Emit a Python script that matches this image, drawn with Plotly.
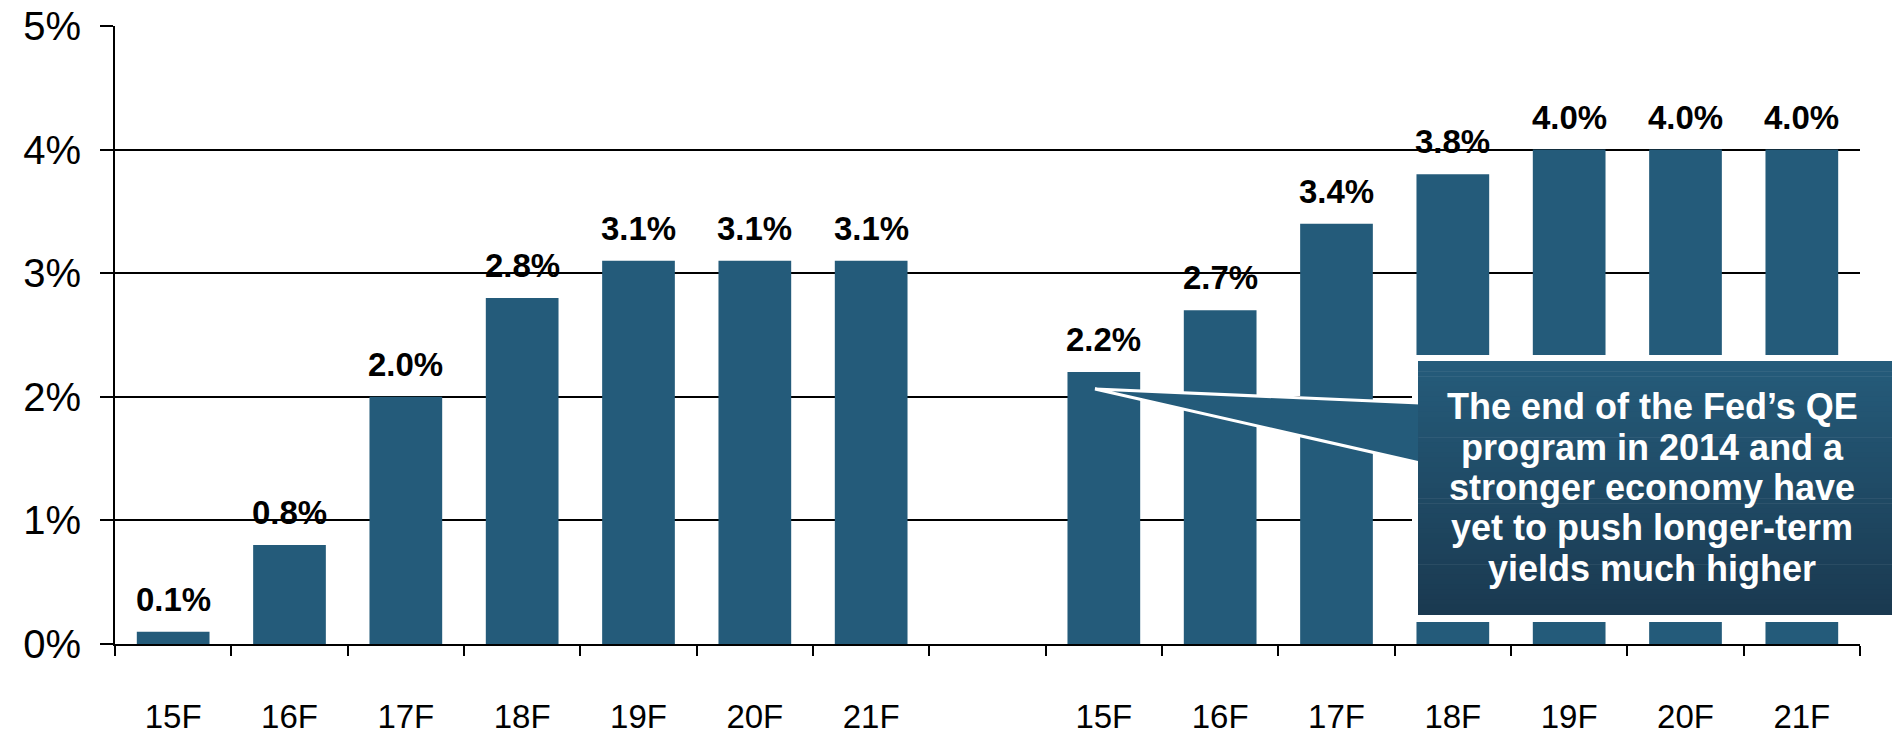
import plotly.graph_objects as go

# ---- data ----
left_cats = ["15F", "16F", "17F", "18F", "19F", "20F", "21F"]
left_vals = [0.1, 0.8, 2.0, 2.8, 3.1, 3.1, 3.1]
right_cats = ["15F", "16F", "17F", "18F", "19F", "20F", "21F"]
right_vals = [2.2, 2.7, 3.4, 3.8, 4.0, 4.0, 4.0]
y_ticks = [0, 1, 2, 3, 4, 5]
y_tick_labels = ["0%", "1%", "2%", "3%", "4%", "5%"]
callout_lines = [
    "The end of the Fed\u2019s QE",
    "program in 2014 and a",
    "stronger economy have",
    "yet to push longer-term",
    "yields much higher",
]

# ---- layout constants ----
W, H = 1892, 735
L, R, T, B = 115, 32, 26, 91
PW, PH = W - L - R, H - T - B
FONT = "Liberation Sans, Arial, sans-serif"
BAR = "#245B7A"

xs_left = list(range(len(left_cats)))
xs_right = [len(left_cats) + 1 + i for i in range(len(right_cats))]
xs = xs_left + xs_right
vals = left_vals + right_vals
cats = left_cats + right_cats
n_slots = len(left_cats) + 1 + len(right_cats)


def px(xp):
    return (xp - L) / PW


def py(yp):
    return (H - B - yp) / PH


fig = go.Figure()
fig.add_trace(go.Bar(x=xs, y=vals, marker=dict(color=BAR, line=dict(width=0)),
                     hoverinfo="skip"))

annotations = []
for x, v in zip(xs, vals):
    annotations.append(dict(x=x, y=v, xref="x", yref="y", text=f"{v:.1f}%",
                            showarrow=False, yanchor="bottom", xanchor="center",
                            yshift=12,
                            font=dict(family=FONT, size=33, color="black", weight="bold")))

# ---- callout ----
shapes = []
shapes.append(dict(type="rect", xref="paper", yref="paper",
                   x0=px(1412), x1=px(1900), y0=py(622), y1=py(355),
                   fillcolor="white", line=dict(width=0), layer="above"))
tip = (px(1095), py(389))
up = (px(1420), py(403))
lo = (px(1420), py(463))
shapes.append(dict(type="path", xref="paper", yref="paper",
                   path=f"M {tip[0]} {tip[1]} L {up[0]} {up[1]} L {lo[0]} {lo[1]} Z",
                   fillcolor=BAR, line=dict(color="white", width=3), layer="above"))
top_c = (0x25, 0x5C, 0x7B)
bot_c = (0x1A, 0x39, 0x50)
y_top, y_bot = 361, 615
N = 50
for i in range(N):
    f = (i + 0.5) / N
    c = tuple(round(top_c[k] + (bot_c[k] - top_c[k]) * f) for k in range(3))
    ya = y_top + (y_bot - y_top) * i / N
    yb = y_top + (y_bot - y_top) * (i + 1) / N + 0.6
    shapes.append(dict(type="rect", xref="paper", yref="paper",
                       x0=px(1418), x1=px(1900), y0=py(min(yb, y_bot)), y1=py(ya),
                       fillcolor="rgb(%d,%d,%d)" % c, line=dict(width=0), layer="above"))

line_centers = [407, 447.5, 487.5, 527.5, 568]
for txt, yc in zip(callout_lines, line_centers):
    annotations.append(dict(x=px(1652), y=py(yc), xref="paper", yref="paper", text=txt,
                            showarrow=False, xanchor="center", yanchor="middle",
                            font=dict(family=FONT, size=36, color="white", weight="bold")))

fig.update_layout(
    width=W, height=H,
    margin=dict(l=L, r=R, t=T, b=B, pad=0, autoexpand=False),
    paper_bgcolor="white", plot_bgcolor="white",
    showlegend=False, bargap=0.375,
    font=dict(family=FONT, color="black"),
    annotations=annotations, shapes=shapes,
    xaxis=dict(
        range=[-0.5, n_slots - 0.5], tickmode="array", tickvals=xs, ticktext=cats,
        ticks="", showgrid=False, zeroline=False, automargin=False,
        showline=True, linecolor="black", linewidth=2,
        tickfont=dict(family=FONT, size=33, color="black"),
        ticklabelstandoff=42,
        minor=dict(tickmode="array", tickvals=[i - 0.5 for i in range(n_slots + 1)],
                   ticks="outside", ticklen=10, tickwidth=2, tickcolor="black",
                   showgrid=False),
        fixedrange=True,
    ),
    yaxis=dict(
        range=[0, 5], tickmode="array", tickvals=y_ticks, ticktext=y_tick_labels,
        ticks="outside", ticklen=13, tickwidth=2, tickcolor="black",
        showgrid=True, gridcolor="black", gridwidth=2, zeroline=False, automargin=False,
        showline=True, linecolor="black", linewidth=2,
        tickfont=dict(family=FONT, size=40, color="black"),
        ticklabelstandoff=11,
        fixedrange=True,
    ),
)

fig.write_html(
    "out.html",
    config={"displayModeBar": False, "responsive": False},
    post_script="document.body.style.margin='0';document.body.style.overflow='hidden';",
)
